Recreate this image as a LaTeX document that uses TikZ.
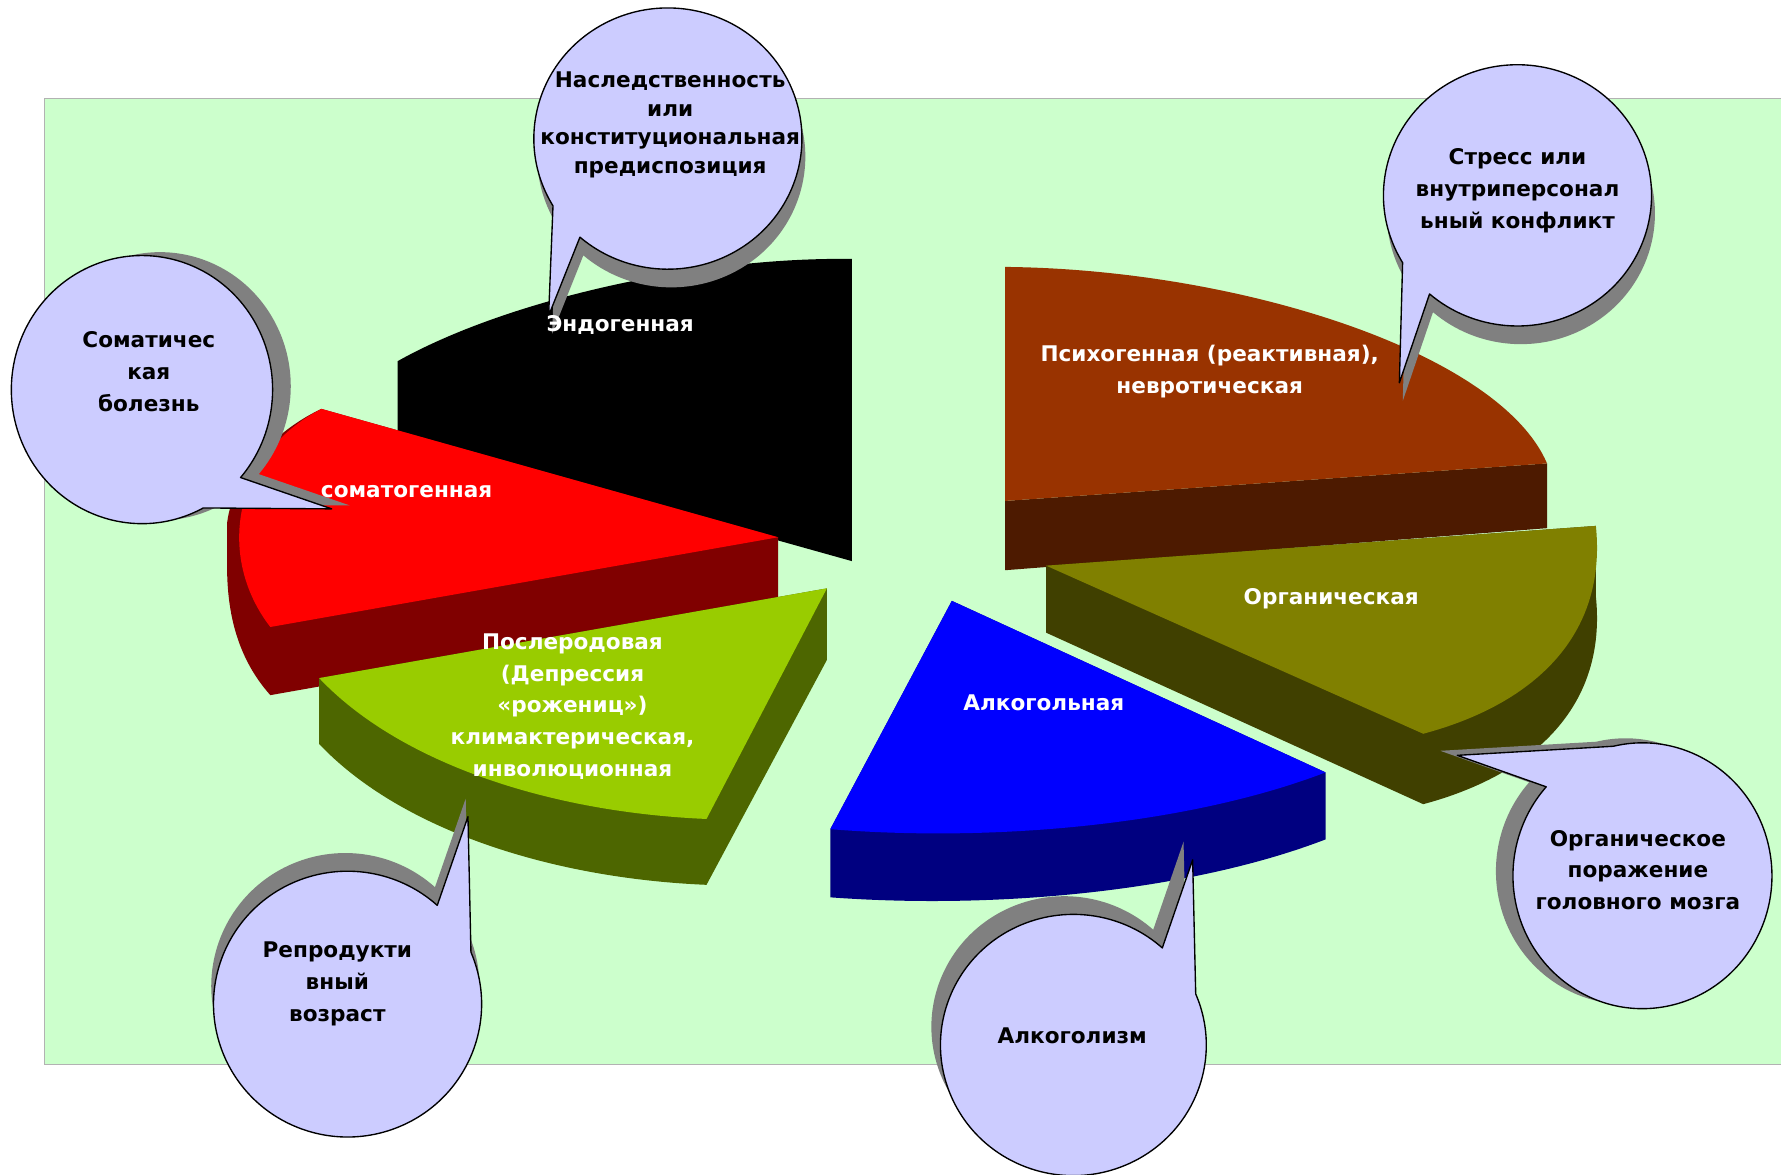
\documentclass[tikz,border=0pt]{standalone}
\usepackage{fontspec}
\setmainfont{DejaVu Sans}

\definecolor{bggreen}{HTML}{CCFFCC}
\definecolor{bubblefill}{HTML}{CCCCFF}
\definecolor{shadowgray}{HTML}{808080}
\definecolor{redtop}{HTML}{FF0000}
\definecolor{redside}{HTML}{800000}
\definecolor{greentop}{HTML}{99CC00}
\definecolor{greenside}{HTML}{4D6600}
\definecolor{bluetop}{HTML}{0000FF}
\definecolor{blueside}{HTML}{000080}
\definecolor{olivetop}{HTML}{808000}
\definecolor{oliveside}{HTML}{404000}
\definecolor{browntop}{HTML}{993300}
\definecolor{brownside}{HTML}{4D1A00}

\tikzset{
  bubble/.style={draw=black, line width=1.2pt, fill=bubblefill, line join=round},
  bubbletext/.style={align=center, text=black, font=\bfseries\fontsize{19}{28}\selectfont},
  slicetext/.style={align=center, text=white, font=\bfseries\fontsize{19}{28}\selectfont},
}

% centre, x radius, y radius, start angle, end angle, tip, shadow shift
\newcommand{\speechbubble}[7]{%
  \fill[shadowgray, shift={#7}] #1 ++(#4:#2 and #3)
    arc[start angle=#4, end angle=#5, x radius=#2, y radius=#3] -- #6 -- cycle;
  \path[bubble] #1 ++(#4:#2 and #3)
    arc[start angle=#4, end angle=#5, x radius=#2, y radius=#3] -- #6 -- cycle;
}

\begin{document}
\begin{tikzpicture}[x=1pt,y=-1pt]
  \useasboundingbox (0,0) rectangle (1568,1034);
  \fill[white] (0,0) rectangle (1568,1034);
  % panel
  \fill[bggreen] (39,87) rectangle (1568,937);
  \draw[gray!60, line width=1pt] (1568,87) -- (39,87) -- (39,937) -- (1568,937);

  % slices
  \fill[black] (750,228) -- (750,494) -- (350,382) -- (350,318)
    .. controls (450,262) and (620,226) .. (750,228) -- cycle;

  \fill[redside] (283,360) -- (685,473) -- (685,533) -- (238,612)
    .. controls (205,575) and (199,530) .. (200,490) -- (200,460)
    .. controls (205,420) and (240,380) .. (283,360) -- cycle;
  \fill[redtop] (283,360) -- (685,473) -- (238,552)
    .. controls (190,490) and (205,400) .. (283,360) -- cycle;

  \fill[greenside] (281,597) -- (728,518) -- (728,581) -- (622,779)
    .. controls (480,773) and (350,728) .. (281,655) -- cycle;
  \fill[greentop] (281,597) -- (728,518) -- (622,721)
    .. controls (480,715) and (350,670) .. (281,597) -- cycle;

  \fill[brownside] (885,441) -- (1362,408) -- (1362,465) -- (885,502) -- cycle;
  \fill[browntop] (885,235) .. controls (1090,237) and (1320,310) .. (1362,408)
    -- (885,441) -- cycle;

  \fill[oliveside] (921,498) -- (1405,463) -- (1405,525)
    .. controls (1415,622) and (1350,682) .. (1253,708) -- (921,557) -- cycle;
  \fill[olivetop] (921,498) -- (1405,463)
    .. controls (1415,560) and (1350,620) .. (1253,646) -- cycle;

  \fill[blueside] (838,529) -- (1167,680) -- (1167,739)
    .. controls (1050,784) and (880,801) .. (731,790) -- (731,730) -- cycle;
  \fill[bluetop] (838,529) -- (1167,680)
    .. controls (1050,725) and (880,742) .. (731,730) -- cycle;

  % callouts
  \speechbubble{(588,122)}{118}{115}{149}{491}{(483,278)}{(3,16)}
  \speechbubble{(125,343)}{115}{118}{62}{401}{(292,448)}{(16,-3)}
  \speechbubble{(1336,172)}{118}{115}{149}{491}{(1232,337)}{(3,16)}
  \speechbubble{(306,884)}{118}{117}{337}{672}{(412,719)}{(-2,-16)}
  \speechbubble{(945,920)}{117}{115}{337}{672}{(1050,757)}{(-8,-16)}
  \speechbubble{(1446,771)}{114}{117}{257}{582}{(1283,665)}{(-15,-4)}

  \node[bubbletext, font=\bfseries\fontsize{19}{25}\selectfont] (heredityText) at (590,110)
    {Наследственность\\или\\конституциональная\\предиспозиция};
  \node[bubbletext] (somaticText) at (131,327) {Соматичес\\кая\\болезнь};
  \node[bubbletext] (stressText) at (1336,168) {Стресс или\\внутриперсонал\\ьный конфликт};
  \node[bubbletext] (reproText) at (297,866) {Репродукти\\вный\\возраст};
  \node[bubbletext] (alcoholismText) at (944,912) {Алкоголизм};
  \node[bubbletext] (brainText) at (1442,766) {Органическое\\поражение\\головного мозга};

  % slice labels
  \node[slicetext] (endoLabel) at (546,286) {Эндогенная};
  \node[slicetext] (somatoLabel) at (358,433) {соматогенная};
  \node[slicetext] (psychoLabel) at (1065,327) {Психогенная (реактивная),\\невротическая};
  \node[slicetext] (organicLabel) at (1172,527) {Органическая};
  \node[slicetext] (alcoholLabel) at (919,619) {Алкогольная};
  \node[slicetext] (postpartumLabel) at (504,622)
    {Послеродовая\\(Депрессия\\«рожениц»)\\климактерическая,\\инволюционная};
\end{tikzpicture}
\end{document}
